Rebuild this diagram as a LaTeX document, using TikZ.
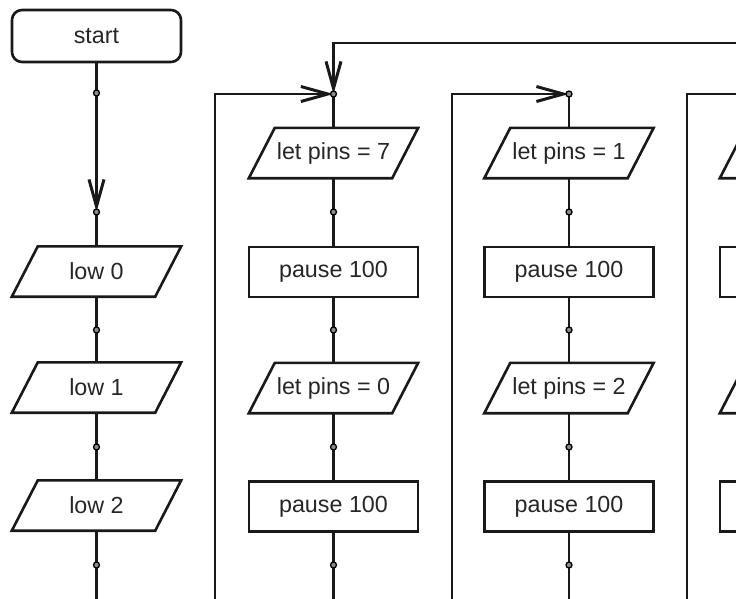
\documentclass[tikz,border=0pt]{standalone}
\usepackage{fontspec}
\setmainfont{Liberation Sans}
\usetikzlibrary{arrows.meta}
\newcommand\iopath[1]{\draw[ln, line join=miter] (#1.south west) -- ([xshift=-26pt]#1.south east) -- (#1.north east) -- ([xshift=26pt]#1.north west) -- cycle;}
\begin{document}
\begin{tikzpicture}[x=1pt,y=-1pt,
  ln/.style={draw=black!90, line width=2.6pt},
  arr/.style={ln, -{Straight Barb[length=27pt,width=15pt,line width=0.4pt 1]}},
  txt/.style={text=black!85, font=\fontsize{23.3}{28}\selectfont, inner sep=0pt},
  procbox/.style={txt, ln, rectangle, minimum width=169pt, minimum height=50pt},
  iobox/.style={txt, rectangle, minimum width=169pt, minimum height=50pt},
  startbox/.style={txt, ln, rectangle, rounded corners=10pt, minimum width=169pt, minimum height=52pt},
  jdot/.style={circle, draw=black, fill=black!45, line width=1.3pt, minimum size=6pt, inner sep=0pt},
]
\useasboundingbox (0,0) rectangle (736,598);
\clip (0,0) rectangle (736,598);

% column 1
\node[startbox] (start) at (96.5,36) {start};
\node[iobox] (low0) at (96.5,271.5) {low 0};
\node[iobox] (low1) at (96.5,387.5) {low 1};
\node[iobox] (low2) at (96.5,505.5) {low 2};
\iopath{low0}\iopath{low1}\iopath{low2}
\coordinate (d1a) at (96.5,93);
\coordinate (d1b) at (96.5,212);
\coordinate (d1c) at (96.5,330);
\coordinate (d1d) at (96.5,447);
\coordinate (d1e) at (96.5,565);
\coordinate (e1) at (96.5,600);
\draw[ln] (start) -- (d1a);
\draw[arr] (d1a) -- (d1b);
\draw[ln] (d1b) -- (low0);
\draw[ln] (low0) -- (d1c) -- (low1);
\draw[ln] (low1) -- (d1d) -- (low2);
\draw[ln] (low2) -- (d1e) -- (e1);

% column 2
\node[iobox] (p7) at (333.5,153) {let pins = 7};
\node[procbox] (pa1) at (333.5,272) {pause 100};
\node[iobox] (p0) at (333.5,388) {let pins = 0};
\node[procbox] (pa2) at (333.5,506.5) {pause 100};
\iopath{p7}\iopath{p0}
\coordinate (j2) at (333.5,94);
\coordinate (d2b) at (333.5,212);
\coordinate (d2c) at (333.5,330);
\coordinate (d2d) at (333.5,447);
\coordinate (d2e) at (333.5,565);
\coordinate (e2) at (333.5,600);
\coordinate (l2) at (215,600);
\coordinate (tr) at (740,43);
\draw[ln] (j2) -- (p7);
\draw[ln] (p7) -- (d2b) -- (pa1);
\draw[ln] (pa1) -- (d2c) -- (p0);
\draw[ln] (p0) -- (d2d) -- (pa2);
\draw[ln] (pa2) -- (d2e) -- (e2);
\draw[arr] (l2) |- (j2);
\draw[arr] (tr) -| (j2);

% column 3
\node[iobox] (p1) at (569,153) {let pins = 1};
\node[procbox] (pb1) at (569,272) {pause 100};
\node[iobox] (p2) at (569,388) {let pins = 2};
\node[procbox] (pb2) at (569,506.5) {pause 100};
\iopath{p1}\iopath{p2}
\coordinate (j3) at (569,94);
\coordinate (d3b) at (569,212);
\coordinate (d3c) at (569,330);
\coordinate (d3d) at (569,447);
\coordinate (d3e) at (569,565);
\coordinate (e3) at (569,600);
\coordinate (l3) at (452,600);
\draw[ln] (j3) -- (p1);
\draw[ln] (p1) -- (d3b) -- (pb1);
\draw[ln] (pb1) -- (d3c) -- (p2);
\draw[ln] (p2) -- (d3d) -- (pb2);
\draw[ln] (pb2) -- (d3e) -- (e3);
\draw[arr] (l3) |- (j3);

% column 4 (cut by the right edge)
\node[iobox] (q1) at (804.5,153) {};
\node[procbox] (qb1) at (804.5,272) {};
\node[iobox] (q2) at (804.5,388) {};
\node[procbox] (qb2) at (804.5,506.5) {};
\iopath{q1}\iopath{q2}
\coordinate (j4) at (804.5,94);
\coordinate (l4) at (687,600);
\draw[arr] (l4) |- (j4);

% junction dots
\foreach \d in {d1a,d1b,d1c,d1d,d1e,j2,d2b,d2c,d2d,d2e,j3,d3b,d3c,d3d,d3e}
  \node[jdot] at (\d) {};
\end{tikzpicture}
\end{document}
